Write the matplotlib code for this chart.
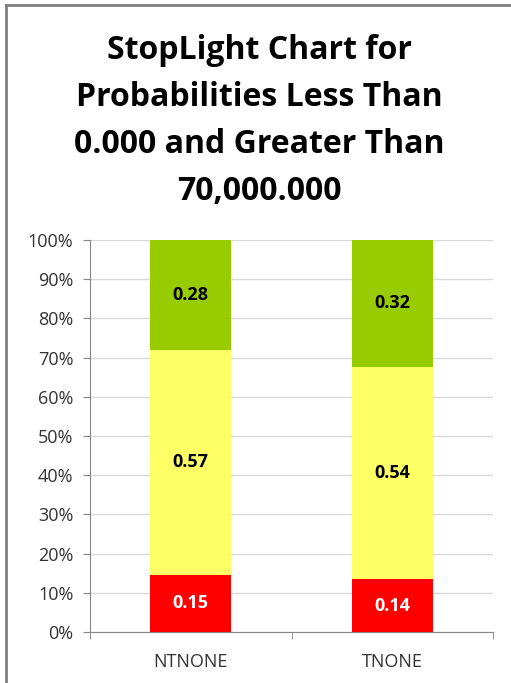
import numpy as np
import matplotlib.pyplot as plt
from matplotlib.lines import Line2D

# data (fractions of 100%)
categories = ["NTNONE", "TNONE"]
red_vals = [0.146, 0.135]
yellow_vals = [0.573, 0.542]
green_vals = [0.281, 0.323]

red_labels = ["0.15", "0.14"]
yellow_labels = ["0.57", "0.54"]
green_labels = ["0.28", "0.32"]

title = "StopLight Chart for\nProbabilities Less Than\n0.000 and Greater Than\n70,000.000"

plt.rcParams['font.family'] = ['Open Sans', 'DejaVu Sans']

fig = plt.figure(figsize=(5.11, 6.83), dpi=100)
ax = fig.add_axes([90 / 511, 51 / 683, 403 / 511, 392 / 683])

x = np.arange(len(categories))
w = 0.4
red = np.array(red_vals)
yel = np.array(yellow_vals)
grn = np.array(green_vals)

ax.bar(x, red, w, color="#FF0000", zorder=3)
ax.bar(x, yel, w, bottom=red, color="#FFFF66", zorder=3)
ax.bar(x, grn, w, bottom=red + yel, color="#99CC00", zorder=3)

lab_size = 13
for i in range(len(categories)):
    ax.text(x[i], red[i] / 2, red_labels[i], ha="center", va="center",
            color="white", fontsize=lab_size, fontweight="bold", zorder=4)
    ax.text(x[i], red[i] + yel[i] / 2, yellow_labels[i], ha="center", va="center",
            color="black", fontsize=lab_size, fontweight="bold", zorder=4)
    ax.text(x[i], red[i] + yel[i] + grn[i] / 2, green_labels[i], ha="center", va="center",
            color="black", fontsize=lab_size, fontweight="bold", zorder=4)

ax.set_xlim(-0.5, len(categories) - 0.5)
ax.set_ylim(0, 1)
ax.set_yticks(np.arange(0, 1.01, 0.1))
ax.set_yticklabels([f"{int(round(t * 100))}%" for t in np.arange(0, 1.01, 0.1)])
ax.yaxis.grid(True, color="#D9D9D9", linewidth=1, zorder=0)

ax.set_xticks(x)
ax.set_xticklabels(categories)
ax.set_xticks(np.arange(-0.5, len(categories), 1), minor=True)
ax.tick_params(axis="x", which="major", length=0, pad=15, labelsize=13, colors="#333333")
ax.tick_params(axis="x", which="minor", length=5, color="#868686")
ax.tick_params(axis="y", length=5, color="#868686", labelsize=13, labelcolor="#333333", pad=7)

for s in ["top", "right"]:
    ax.spines[s].set_visible(False)
ax.spines["left"].set_color("#868686")
ax.spines["bottom"].set_color("#868686")

fig.text(0.508, 1 - 121 / 683, title, ha="center", va="center",
         fontsize=23, fontweight="bold", linespacing=1.56)

# outer chart border (left and top edges visible)
fig.add_artist(Line2D([6 / 511, 6 / 511], [0, 1 - 5 / 683], transform=fig.transFigure,
                      color="#808080", linewidth=2))
fig.add_artist(Line2D([6 / 511, 1], [1 - 5 / 683, 1 - 5 / 683], transform=fig.transFigure,
                      color="#808080", linewidth=2))

fig.savefig("out.png", dpi=100)
